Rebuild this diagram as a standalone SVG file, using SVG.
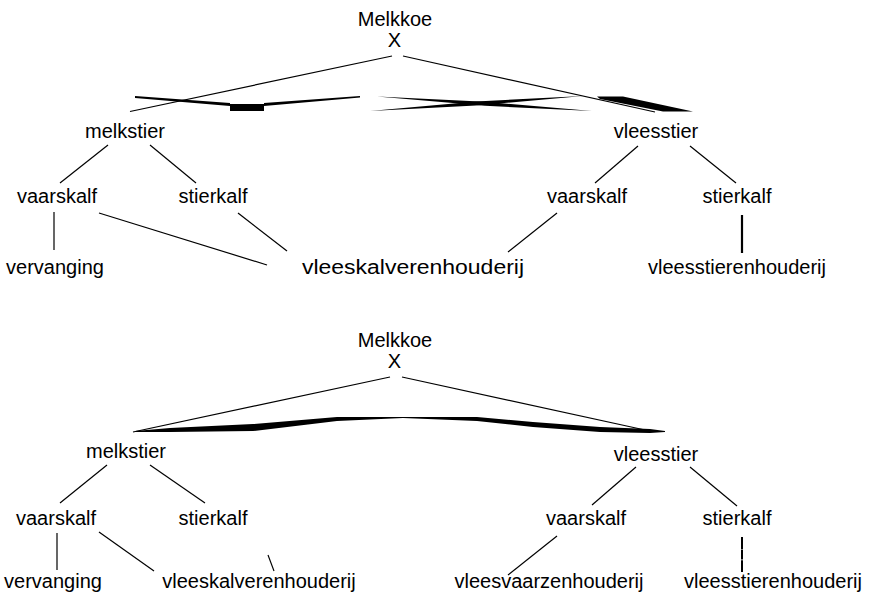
<svg xmlns="http://www.w3.org/2000/svg" width="870" height="601" viewBox="0 0 870 601">
<style>
text{font-family:"Liberation Sans",Arial,sans-serif;font-size:20px;fill:#000;text-anchor:middle}
.c line{stroke:#000;stroke-width:1.2;fill:none}
.w{fill:#000;stroke:none}
</style>
<rect width="870" height="601" fill="#fff"/>
<g id="connectors" class="c">
<line x1="392" y1="56" x2="130" y2="111.5"/>
<line x1="403" y1="56" x2="655" y2="112"/>
<line x1="108" y1="145" x2="60" y2="183"/>
<line x1="150" y1="145" x2="196" y2="183"/>
<line x1="54" y1="212" x2="54" y2="250"/>
<line x1="99" y1="213" x2="267" y2="265"/>
<line x1="238" y1="213" x2="287" y2="251"/>
<line x1="638" y1="146" x2="595" y2="183"/>
<line x1="690" y1="146" x2="736" y2="183"/>
<line x1="557" y1="213" x2="508" y2="252"/>
<line x1="742" y1="215" x2="742" y2="253" style="stroke-width:2.2"/>
<line x1="390" y1="377" x2="133" y2="432"/>
<line x1="402" y1="377" x2="645" y2="430"/>
<line x1="107" y1="465" x2="60" y2="503"/>
<line x1="150" y1="465" x2="205" y2="503"/>
<line x1="57" y1="533" x2="57" y2="570"/>
<line x1="99" y1="532" x2="154" y2="571"/>
<line x1="268" y1="555" x2="274" y2="571"/>
<line x1="636" y1="467" x2="592" y2="505"/>
<line x1="690" y1="467" x2="737" y2="506"/>
<line x1="557" y1="536" x2="508" y2="575"/>
<line x1="742" y1="537" x2="742" y2="572" style="stroke-width:2;stroke-dasharray:12 0.6 10 0.6 13"/>
<polygon class="w" points="135,96 230,103 230,106 135,98"/>
<rect class="w" x="230" y="104" width="34" height="7"/>
<polygon class="w" points="264,103 360,96 360,97.5 264,106"/>
<polygon class="w" points="377,96.5 485,101.8 592,111 485,105.8"/>
<polygon class="w" points="370,111 476,101.5 583,96 476,105.5"/>
<polygon class="w" points="597,96.5 623,96.5 693,111.5 663,111.5 600,99"/>
<polygon class="w" points="135,431 170,428 253,424 337,417 477,417 533,422 600,427 650,429 665,431 665,432 650,433 600,432 533,427 477,421 403,418 337,421 253,431 170,432 135,432"/>
</g>
<g id="top-melkkoe"><text x="395" y="26">Melkkoe</text><text x="394.5" y="47">X</text></g>
<g id="top-melkstier"><text x="125" y="138">melkstier</text></g>
<g id="top-vleesstier"><text x="656" y="138">vleesstier</text></g>
<g id="top-vaarskalf-l"><text x="57" y="203">vaarskalf</text></g>
<g id="top-stierkalf-l"><text x="213" y="203">stierkalf</text></g>
<g id="top-vaarskalf-r"><text x="587" y="203">vaarskalf</text></g>
<g id="top-stierkalf-r"><text x="737" y="203">stierkalf</text></g>
<g id="top-vervanging"><text x="55" y="274">vervanging</text></g>
<g id="top-vleeskalverenhouderij"><text x="302" y="274" style="text-anchor:start" textLength="222" lengthAdjust="spacingAndGlyphs">vleeskalverenhouderij</text></g>
<g id="top-vleesstierenhouderij"><text x="737" y="274">vleesstierenhouderij</text></g>
<g id="bot-melkkoe"><text x="395" y="347">Melkkoe</text><text x="394.5" y="368">X</text></g>
<g id="bot-melkstier"><text x="126" y="458">melkstier</text></g>
<g id="bot-vleesstier"><text x="656" y="461">vleesstier</text></g>
<g id="bot-vaarskalf-l"><text x="56" y="525">vaarskalf</text></g>
<g id="bot-stierkalf-l"><text x="213" y="525">stierkalf</text></g>
<g id="bot-vaarskalf-r"><text x="586" y="525">vaarskalf</text></g>
<g id="bot-stierkalf-r"><text x="737" y="525">stierkalf</text></g>
<g id="bot-vervanging"><text x="53" y="588">vervanging</text></g>
<g id="bot-vleeskalverenhouderij"><text x="259" y="588">vleeskalverenhouderij</text></g>
<g id="bot-vleesvaarzenhouderij"><text x="549" y="588">vleesvaarzenhouderij</text></g>
<g id="bot-vleesstierenhouderij"><text x="773" y="588">vleesstierenhouderij</text></g>
</svg>
